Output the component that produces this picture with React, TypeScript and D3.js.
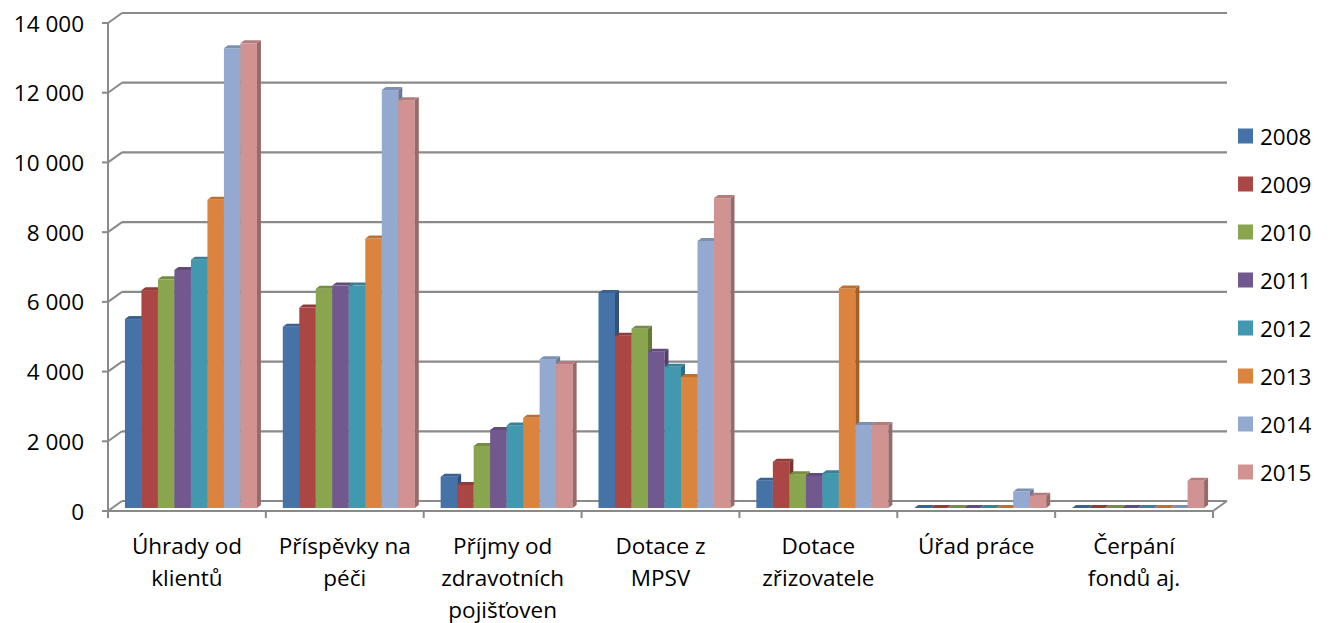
import React from 'react';
import * as d3 from 'd3';

const categories = [
  ['Úhrady od', 'klientů'],
  ['Příspěvky na', 'péči'],
  ['Příjmy od', 'zdravotních', 'pojišťoven'],
  ['Dotace z', 'MPSV'],
  ['Dotace', 'zřizovatele'],
  ['Úřad práce'],
  ['Čerpání', 'fondů aj.'],
];
const years = ['2008', '2009', '2010', '2011', '2012', '2013', '2014', '2015'];
const colors = ['#4572A7', '#AA4643', '#89A54E', '#71588F', '#4198AF', '#DB843D', '#93A9CF', '#D19392'];

// values per category, one per year
const uhrady = [5420, 6250, 6560, 6830, 7120, 8840, 13190, 13330];
const prispevky = [5200, 5750, 6290, 6380, 6380, 7730, 11990, 11700];
const prijmy = [900, 660, 1780, 2240, 2370, 2590, 4270, 4130];
const dotaceMpsv = [6170, 4940, 5140, 4480, 4050, 3760, 7660, 8890];
const dotaceZriz = [780, 1330, 970, 920, 1000, 6300, 2380, 2380];
const uradPrace = [0, 0, 0, 0, 0, 0, 470, 350];
const cerpani = [0, 0, 0, 0, 0, 0, 0, 780];
const values = [uhrady, prispevky, prijmy, dotaceMpsv, dotaceZriz, uradPrace, cerpani];

const yTicks = [0, 2000, 4000, 6000, 8000, 10000, 12000, 14000];

const fmt = d3.formatLocale({ decimal: ',', thousands: ' ', grouping: [3], currency: ['', ''] }).format(',');

const App: React.FC = () => {
  const width = 1329;
  const height = 623;
  const left = 108, right = 1213;
  // wall depth offset
  const wdx = 14, wdy = -10;
  // bar plane offset and bar depth
  const bdx = 4, bdy = -3;
  const ddx = 4, ddy = -3;

  const yFront = d3.scaleLinear().domain([0, 14000]).range([511, 23]);
  const x0 = d3.scaleBand<number>().domain(d3.range(categories.length)).range([left, right]);
  const barW = 16.5;
  const x1 = d3.scaleBand<number>().domain(d3.range(years.length)).range([0, barW * years.length]);

  const font = "'Open Sans', sans-serif";
  const fs = 22.5;
  const grid = '#8a8a8a';

  return (
    <svg width={width} height={height} style={{ position: 'absolute', left: 0, top: 0, background: '#fff' }}>
      {/* back wall gridlines + left wall diagonals */}
      {yTicks.map(t => {
        const yf = yFront(t);
        return (
          <g key={t}>
            <line x1={left + wdx} x2={right + wdx} y1={yf + wdy} y2={yf + wdy} stroke={grid} strokeWidth={2.2} />
            <line x1={left} x2={left + wdx} y1={yf} y2={yf + wdy} stroke={grid} strokeWidth={2} />
            <line x1={left - 6} x2={left} y1={yf} y2={yf} stroke={grid} strokeWidth={2} />
            <text x={84} y={yf} textAnchor="end" dominantBaseline="central" fontFamily={font} fontSize={fs} fill="#000">
              {fmt(t)}
            </text>
          </g>
        );
      })}
      {/* floor front edge and right diagonal */}
      <line x1={left} x2={right} y1={yFront(0)} y2={yFront(0)} stroke={grid} strokeWidth={2.2} />
      <line x1={right} x2={right + wdx} y1={yFront(0)} y2={yFront(0) + wdy} stroke={grid} strokeWidth={2} />
      <line x1={left} x2={left} y1={yFront(14000)} y2={yFront(0)} stroke={grid} strokeWidth={2} />
      {d3.range(categories.length + 1).map(i => {
        const xx = left + x0.step() * i;
        return <line key={i} x1={xx} x2={xx} y1={yFront(0)} y2={yFront(0) + 7} stroke={grid} strokeWidth={2} />;
      })}

      {/* bars */}
      {values.map((vals, ci) => {
        const cx = (x0(ci) as number) + x0.bandwidth() / 2 + bdx;
        const start = cx - x1.range()[1] / 2;
        return (
          <g key={ci}>
            {vals.map((v, yi) => {
              const x = start + (x1(yi) as number);
              const base = yFront(0) + bdy;
              const top = yFront(v) + bdy;
              const c = colors[yi];
              const side = d3.color(c)!.darker(0.9).formatHex();
              const topC = d3.color(c)!.darker(0.45).formatHex();
              const w = x1.bandwidth();
              return (
                <g key={yi}>
                  <rect x={x} y={top} width={w} height={base - top} fill={c} />
                  <polygon
                    points={`${x + w},${top} ${x + w + ddx},${top + ddy} ${x + w + ddx},${base + ddy} ${x + w},${base}`}
                    fill={side}
                  />
                  <polygon
                    points={`${x},${top} ${x + ddx},${top + ddy} ${x + w + ddx},${top + ddy} ${x + w},${top}`}
                    fill={topC}
                  />
                </g>
              );
            })}
          </g>
        );
      })}

      {/* category labels */}
      {categories.map((lines, ci) => {
        const cx = (x0(ci) as number) + x0.bandwidth() / 2;
        return (
          <text key={ci} textAnchor="middle" fontFamily={font} fontSize={fs} fill="#000">
            {lines.map((l, li) => (
              <tspan key={li} x={cx} y={545 + li * 32} dominantBaseline="central">{l}</tspan>
            ))}
          </text>
        );
      })}

      {/* legend */}
      {years.map((yr, i) => {
        const cy = 136 + i * 48;
        return (
          <g key={yr}>
            <rect x={1238} y={cy - 7.5} width={15} height={15} fill={colors[i]} />
            <text x={1260} y={cy} dominantBaseline="central" fontFamily={font} fontSize={fs} fill="#000">{yr}</text>
          </g>
        );
      })}
    </svg>
  );
};

export default App;
